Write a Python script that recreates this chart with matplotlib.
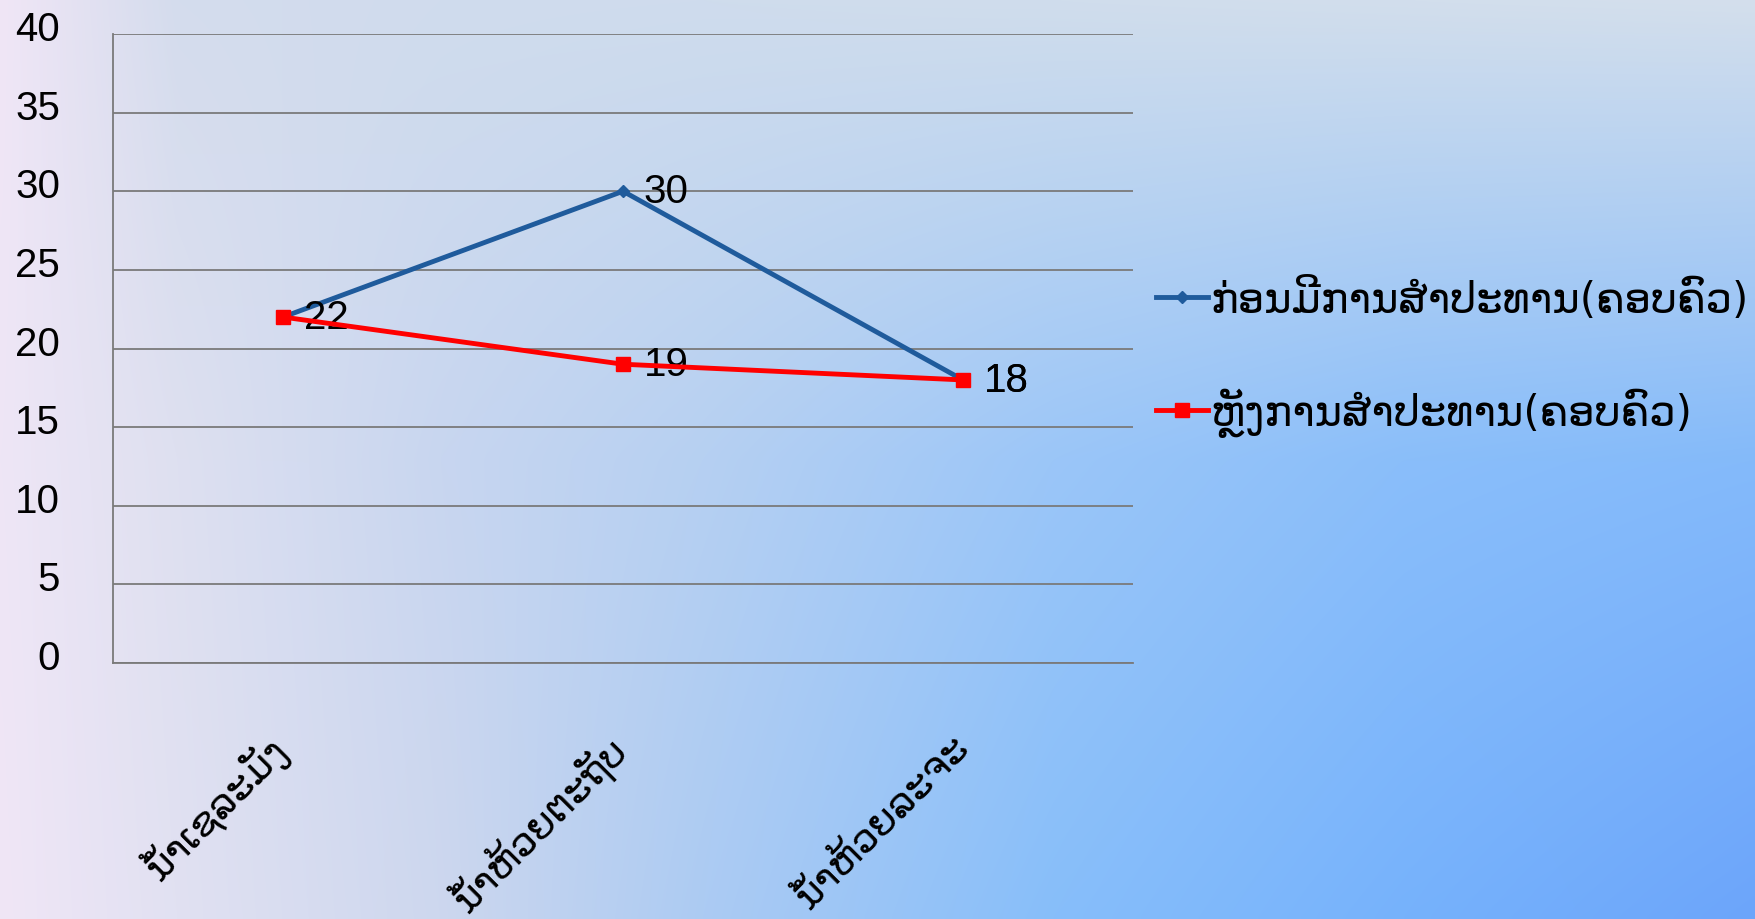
import numpy as np
import matplotlib
matplotlib.use("Agg")
import matplotlib.pyplot as plt
from matplotlib.transforms import ScaledTranslation

categories = ["ນ້ຳເຊລະມັງ", "ນ້ຳຫ້ວຍຕະຖັບ", "ນ້ຳຫ້ວຍລະຈະ"]
series_before = [22, 30, 18]
series_after = [22, 19, 18]
label_before = "ກ່ອນມີການສຳປະທານ(ຄອບຄົວ)"
label_after = "ຫຼັງການສຳປະທານ(ຄອບຄົວ)"
yticks = [0, 5, 10, 15, 20, 25, 30, 35, 40]

FAM = ["Liberation Sans", "DejaVu Sans"]
plt.rcParams["font.family"] = FAM

W, H = 1756, 920
fig = plt.figure(figsize=(W / 100, H / 100), dpi=100)

# background gradient
cx = np.array([0, 0.1, 0.25, 0.4, 0.6, 0.8, 1.0])
rows_y = np.array([0.0, 0.5, 1.0])
rows = np.array([
    [[240, 230, 246], [212, 220, 237], [208, 220, 237], [207, 220, 237], [208, 221, 236], [210, 222, 236], [212, 223, 236]],
    [[238, 230, 246], [222, 224, 240], [200, 214, 240], [182, 208, 242], [155, 198, 248], [138, 190, 250], [132, 186, 250]],
    [[240, 230, 246], [225, 225, 242], [205, 215, 238], [172, 203, 243], [135, 190, 250], [118, 178, 252], [108, 165, 250]],
], dtype=float) / 255.0
nx, ny = 440, 230
xs = np.linspace(0, 1, nx)
ys = np.linspace(0, 1, ny)
row_img = np.zeros((3, nx, 3))
for r in range(3):
    for c in range(3):
        row_img[r, :, c] = np.interp(xs, cx, rows[r, :, c])
img = np.zeros((ny, nx, 3))
for c in range(3):
    for j in range(nx):
        img[:, j, c] = np.interp(ys, rows_y, row_img[:, j, c])
bg = fig.add_axes([0, 0, 1, 1], zorder=-10)
bg.imshow(img, aspect="auto", extent=[0, 1, 0, 1], interpolation="bicubic")
bg.set_axis_off()

ax = fig.add_axes([113 / W, 1 - 664 / H, (1133 - 113) / W, (664 - 35) / H])
ax.set_facecolor("none")
x = np.arange(len(categories))
ax.set_xlim(-0.5, len(categories) - 0.5)
ax.set_ylim(0, 40)
ax.set_yticks(yticks)
ax.yaxis.grid(True, color="#7a7a7a", linewidth=1.3)
ax.set_axisbelow(True)
for s in ["top", "right"]:
    ax.spines[s].set_visible(False)
for s in ["left", "bottom"]:
    ax.spines[s].set_color("#7a7a7a")
    ax.spines[s].set_linewidth(1.3)
ax.tick_params(axis="both", length=0)
ax.tick_params(axis="y", labelsize=29, pad=38)
yoff = ScaledTranslation(0, 9 / 100, fig.dpi_scale_trans)
for lab in ax.get_yticklabels():
    lab.set_transform(lab.get_transform() + yoff)
ax.set_xticks(x)
ax.set_xticklabels(categories, rotation=45, ha="right", fontsize=28,
                   family=["DejaVu Sans"])
ax.tick_params(axis="x", pad=46)
off = ScaledTranslation(13 / 100, 0, fig.dpi_scale_trans)
for lab in ax.get_xticklabels():
    lab.set_transform(lab.get_transform() + off)

ax.plot(x, series_before, color="#1f5b9c", linewidth=3.5, marker="D",
        markersize=6, label=label_before, zorder=3)
ax.plot(x, series_after, color="#ff0000", linewidth=3.5, marker="s",
        markersize=10, label=label_after, zorder=4)

for xi, v in zip(x, series_before):
    ax.annotate(str(v), (xi, v), xytext=(15, 0), textcoords="offset points",
                fontsize=29, va="center", ha="left")
for xi, v in zip(x[1:], series_after[1:]):
    ax.annotate(str(v), (xi, v), xytext=(15, 0), textcoords="offset points",
                fontsize=29, va="center", ha="left")

fig.legend(loc="center left", bbox_to_anchor=(1156 / W, 1 - 358 / H),
           frameon=False, handlelength=1.25, handletextpad=0.05,
           labelspacing=1.6, prop={"family": ["DejaVu Sans"], "size": 30},
           borderaxespad=0, borderpad=0)

fig.savefig("out.png", dpi=100)
